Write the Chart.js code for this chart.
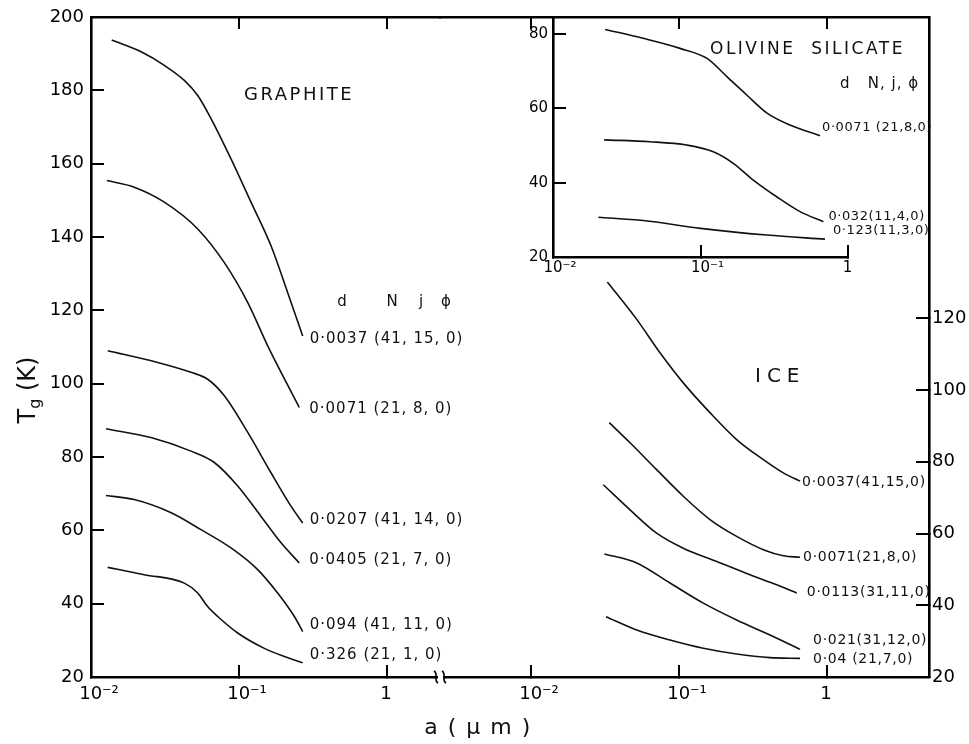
<!DOCTYPE html>
<html><head><meta charset="utf-8">
<script src="https://cdn.jsdelivr.net/npm/chart.js@4.4.1/dist/chart.umd.min.js"></script>
<style>
html,body{margin:0;padding:0;background:#fff;}
#wrap{position:relative;width:969px;height:744px;background:#fff;}
canvas{position:absolute;left:0;top:0;}
</style></head><body>
<div id="wrap">
<canvas id="cG" width="969" height="744"></canvas>
<canvas id="cI" width="969" height="744"></canvas>
<canvas id="cO" width="969" height="744"></canvas>
</div>
<script>
// ---------------- DATA ----------------
const xTickValues = [0.01, 0.1, 1];
const xTickLabels = ['10\u207B\u00B2', '10\u207B\u00B9', '1'];
const graphiteYTicks = [20, 40, 60, 80, 100, 120, 140, 160, 180, 200];
const iceYTicks = [20, 40, 60, 80, 100, 120];
const olivineYTicks = [20, 40, 60, 80];

// Graphite (a in micron, Tg in K)
const gA1 = [0.0138, 0.0218, 0.0313, 0.0427, 0.0526, 0.0647, 0.0883, 0.1205, 0.1645, 0.2133, 0.2693];
const gT1 = [193.7, 190.5, 186.8, 182.7, 178.6, 172.3, 161.3, 149.5, 137.6, 124.8, 113.0];
const gA2 = [0.0128, 0.0196, 0.0313, 0.0526, 0.0796, 0.1146, 0.1563, 0.2553];
const gT2 = [155.4, 153.6, 149.5, 142.2, 133.0, 122.1, 110.3, 93.5];
const gA3 = [0.01297, 0.0282, 0.0474, 0.0614, 0.0796, 0.1146, 0.1645, 0.2244, 0.2693];
const gT3 = [109.0, 105.8, 103.1, 101.2, 96.7, 86.7, 75.7, 66.6, 62.0];
const gA4 = [0.01262, 0.0254, 0.0474, 0.0681, 0.098, 0.1409, 0.1923, 0.2553];
const gT4 = [87.7, 85.3, 81.6, 78.5, 72.1, 63.8, 56.6, 51.1];
const gA5 = [0.01262, 0.0196, 0.0348, 0.0553, 0.0883, 0.1337, 0.1824, 0.2366, 0.2693];
const gT5 = [69.5, 68.4, 64.8, 60.2, 55.2, 49.3, 42.9, 36.5, 32.4];
const gA6 = [0.01297, 0.0229, 0.0427, 0.0526, 0.0614, 0.0718, 0.098, 0.1483, 0.2023, 0.2693];
const gT6 = [49.9, 47.9, 45.6, 42.9, 39.2, 36.5, 32.0, 27.8, 25.6, 23.9];
const graphiteNames = ['0\u00B70037 (41, 15, 0)', '0\u00B70071 (21, 8, 0)', '0\u00B70207 (41, 14, 0)',
                       '0\u00B70405 (21, 7, 0)', '0\u00B7094 (41, 11, 0)', '0\u00B7326 (21, 1, 0)'];

// Ice
const iA1 = [0.0328, 0.0518, 0.0744, 0.1069, 0.1619, 0.2452, 0.3715, 0.507, 0.6573];
const iT1 = [130.1, 119.7, 110.4, 102.0, 93.7, 86.2, 80.6, 76.9, 74.6];
const iA2 = [0.0338, 0.0467, 0.0706, 0.1069, 0.1619, 0.2452, 0.3715, 0.507, 0.6573];
const iT2 = [90.9, 85.3, 77.8, 70.4, 63.9, 59.2, 55.5, 53.8, 53.4];
const iA3 = [0.0308, 0.0467, 0.0706, 0.1069, 0.1799, 0.302, 0.457, 0.625];
const iT3 = [73.6, 66.6, 60.1, 55.9, 52.2, 48.5, 45.7, 43.4];
const iA4 = [0.0313, 0.0518, 0.0869, 0.146, 0.2452, 0.412, 0.6573];
const iT4 = [54.3, 51.8, 46.2, 40.6, 35.9, 31.7, 27.7];
const iA5 = [0.0321, 0.0518, 0.0869, 0.146, 0.2452, 0.412, 0.6573];
const iT5 = [36.8, 33.1, 30.3, 28.0, 26.4, 25.4, 25.2];
const iceNames = ['0\u00B70037(41,15,0)', '0\u00B70071(21,8,0)', '0\u00B70113(31,11,0)',
                  '0\u00B7021(31,12,0)', '0\u00B704 (21,7,0)'];

// Olivine silicate (inset)
const oA1 = [0.02255, 0.0407, 0.0726, 0.1107, 0.151, 0.2066, 0.2825, 0.404, 0.646];
const oT1 = [81.2, 78.8, 76.1, 73.4, 68.5, 63.5, 58.7, 55.5, 52.6];
const oA2 = [0.0222, 0.0455, 0.0806, 0.1222, 0.1668, 0.228, 0.3286, 0.473, 0.681];
const oT2 = [51.5, 51.0, 50.1, 48.3, 45.2, 40.7, 36.2, 32.2, 29.5];
const oA3 = [0.0203, 0.041, 0.1, 0.281, 0.698];
const oT3 = [30.7, 29.8, 27.7, 25.9, 24.8];
const olivineNames = ['0\u00B70071 (21,8,0)', '0\u00B7032(11,4,0)', '0\u00B7123(11,3,0)'];

// ---------------- STYLE / LAYOUT ----------------
const FONT = "'DejaVu Sans', 'Liberation Sans', sans-serif";
const INK = '#111';
const graphiteOffsets = [[7, 3], [10, 2], [7, -3], [10, -3], [7, -6], [7, -8]];
const iceOffsets = [[2, 1], [3, 0], [10, -1], [13, -9], [13, 1]];
const olivineOffsets = [[2, -8], [5, -5], [8, -9]];

function line(a, t) {
  return { data: a.map((v, i) => ({ x: v, y: t[i] })), borderColor: INK, borderWidth: 1.6,
           pointRadius: 0, fill: false, cubicInterpolationMode: 'monotone' };
}
function grid(len) { return { display: true, drawOnChartArea: false, drawTicks: true, tickLength: -len, color: '#000', lineWidth: 2 }; }
function brd() { return { display: true, color: '#000', width: 2.6 }; }
function setTicks(vals) { return s => { s.ticks = vals.map(v => ({ value: v })); }; }
function noPad(s) { s.paddingTop = 0; s.paddingBottom = 0; s.paddingLeft = 0; s.paddingRight = 0; }
function fixW(w) { return s => { s.width = w; noPad(s); }; }
function fixH(h) { return s => { s.height = h; noPad(s); }; }
function xLabel(v) {
  const i = xTickValues.findIndex(t => Math.abs(t - v) / t < 1e-6);
  if (i < 0) return '';
  return i === 2 ? xTickLabels[i] + '\u2002\u2002' : xTickLabels[i];
}
function spaced(ctx, px) { try { ctx.letterSpacing = px + 'px'; } catch (e) {} }

function labelPlugin(names, offs, font, spacing) {
  return { id: 'curveLabels', afterDatasetsDraw(chart) {
    const ctx = chart.ctx; ctx.save(); ctx.font = font; ctx.fillStyle = INK;
    ctx.textBaseline = 'middle'; ctx.textAlign = 'left'; spaced(ctx, spacing);
    names.forEach((n, i) => {
      const pts = chart.getDatasetMeta(i).data; const p = pts[pts.length - 1];
      ctx.fillText(n, p.x + offs[i][0], p.y + offs[i][1]);
    });
    ctx.restore();
  } };
}

const baseOpts = { responsive: false, animation: false, devicePixelRatio: 1,
  plugins: { legend: { display: false }, tooltip: { enabled: false } } };

// ---------------- GRAPHITE (left) ----------------
const gLeftMax = 2.28;
new Chart(document.getElementById('cG'), {
  type: 'line',
  data: { datasets: [line(gA1, gT1), line(gA2, gT2), line(gA3, gT3), line(gA4, gT4), line(gA5, gT5), line(gA6, gT6)] },
  options: Object.assign({}, baseOpts, {
    layout: { padding: { left: 0, right: 529, top: 0, bottom: 0 } },
    scales: {
      x: { type: 'logarithmic', position: 'bottom', min: 0.01, max: gLeftMax,
           afterBuildTicks: setTicks(xTickValues), afterFit: fixH(67),
           ticks: { callback: xLabel, maxRotation: 0, autoSkip: false, padding: 19, labelOffset: 8,
                    color: '#000', font: { family: FONT, size: 18 } },
           grid: grid(12), border: brd() },
      xTop: { axis: 'x', type: 'logarithmic', position: 'top', min: 0.01, max: gLeftMax,
           afterBuildTicks: setTicks([0.1, 1]), afterFit: fixH(17),
           ticks: { display: false }, grid: grid(12), border: brd() },
      y: { type: 'linear', position: 'left', min: 20, max: 200,
           afterBuildTicks: setTicks(graphiteYTicks), afterFit: fixW(91),
           ticks: { padding: 20, color: '#000', font: { family: FONT, size: 18 } },
           grid: grid(13), border: brd() }
    }
  }),
  plugins: [labelPlugin(graphiteNames, graphiteOffsets, '15px ' + FONT, 1), {
    id: 'graphiteText', afterDraw(chart) {
      const ctx = chart.ctx, ca = chart.chartArea; ctx.save(); ctx.fillStyle = INK;
      ctx.textBaseline = 'middle';
      ctx.font = '18px ' + FONT; spaced(ctx, 2.5); ctx.textAlign = 'left';
      ctx.fillText('GRAPHITE', ca.left + 153, 95);
      ctx.font = '15px ' + FONT; spaced(ctx, 0); ctx.textAlign = 'center';
      [['d', 251], ['N', 301], ['j', 330], ['\u03D5', 355]].forEach(h => ctx.fillText(h[0], ca.left + h[1], 302));
      // x axis title
      ctx.font = '22px ' + FONT; spaced(ctx, 1.5); ctx.textAlign = 'center';
      ctx.fillText('a ( \u03BC m )', 478, 728);
      // y axis title with subscript
      spaced(ctx, 0);
      ctx.translate(27, 390); ctx.rotate(-Math.PI / 2);
      const fB = '24px ' + FONT, fS = '16px ' + FONT;
      ctx.font = fB; const wT = ctx.measureText('T').width; const wK = ctx.measureText(' (K)').width;
      ctx.font = fS; const wg = ctx.measureText('g').width;
      let x0 = -(wT + wg + wK) / 2; ctx.textAlign = 'left'; ctx.textBaseline = 'alphabetic';
      ctx.font = fB; ctx.fillText('T', x0, 8);
      ctx.font = fS; ctx.fillText('g', x0 + wT, 13);
      ctx.font = fB; ctx.fillText(' (K)', x0 + wT + wg, 8);
      ctx.restore();
    } }]
});

// ---------------- ICE (right) ----------------
const iMin = 0.002427, iMax = 4.89;
new Chart(document.getElementById('cI'), {
  type: 'line',
  data: { datasets: [line(iA1, iT1), line(iA2, iT2), line(iA3, iT3), line(iA4, iT4), line(iA5, iT5)] },
  options: Object.assign({}, baseOpts, {
    layout: { padding: { left: 440, right: 0, top: 0, bottom: 0 } },
    scales: {
      x: { type: 'logarithmic', position: 'bottom', min: iMin, max: iMax,
           afterBuildTicks: setTicks(xTickValues), afterFit: fixH(67),
           ticks: { callback: xLabel, maxRotation: 0, autoSkip: false, padding: 19, labelOffset: 8,
                    color: '#000', font: { family: FONT, size: 18 } },
           grid: grid(12), border: brd() },
      xTop: { axis: 'x', type: 'logarithmic', position: 'top', min: iMin, max: iMax,
           afterBuildTicks: setTicks(xTickValues), afterFit: fixH(17),
           ticks: { display: false }, grid: grid(12), border: brd() },
      y: { type: 'linear', position: 'right', min: 20, max: 204,
           afterBuildTicks: setTicks(iceYTicks), afterFit: fixW(40),
           ticks: { padding: 16, color: '#000', font: { family: FONT, size: 18 } },
           grid: grid(13), border: brd() }
    }
  }),
  plugins: [labelPlugin(iceNames, iceOffsets, '14px ' + FONT, 0.7), {
    id: 'iceText', afterDraw(chart) {
      const ctx = chart.ctx, ca = chart.chartArea; ctx.save(); ctx.fillStyle = INK;
      ctx.textBaseline = 'middle'; ctx.textAlign = 'left';
      ctx.font = '20px ' + FONT; spaced(ctx, 6);
      ctx.fillText('ICE', 755, 377);
      // axis break mark
      const x = ca.left, y = ca.bottom;
      ctx.fillStyle = '#fff'; ctx.fillRect(x - 2, y - 3, 5, 6);
      ctx.strokeStyle = '#000'; ctx.lineWidth = 1.6;
      [-4, 4].forEach(dx => {
        ctx.beginPath(); ctx.moveTo(x + dx - 2, y - 6);
        ctx.bezierCurveTo(x + dx + 3, y - 3, x + dx - 3, y + 3, x + dx + 2, y + 6); ctx.stroke();
      });
      ctx.restore();
    } }]
});

// ---------------- OLIVINE SILICATE (inset) ----------------
new Chart(document.getElementById('cO'), {
  type: 'line',
  data: { datasets: [line(oA1, oT1), line(oA2, oT2), line(oA3, oT3)] },
  options: Object.assign({}, baseOpts, {
    layout: { padding: { left: 0, right: 121, top: 19, bottom: 0 } },
    scales: {
      x: { type: 'logarithmic', position: 'bottom', min: 0.01, max: 1,
           afterBuildTicks: setTicks(xTickValues), afterFit: fixH(487),
           ticks: { callback: xLabel, maxRotation: 0, autoSkip: false, padding: 14, labelOffset: 7,
                    color: '#000', font: { family: FONT, size: 15 } },
           grid: grid(12), border: brd() },
      y: { type: 'linear', position: 'left', min: 20, max: 84,
           afterBuildTicks: setTicks(olivineYTicks), afterFit: fixW(553),
           ticks: { padding: 18, color: '#000', font: { family: FONT, size: 15 } },
           grid: grid(13), border: brd() }
    }
  }),
  plugins: [labelPlugin(olivineNames, olivineOffsets, '13px ' + FONT, 0.6), {
    id: 'olivineText', afterDraw(chart) {
      const ctx = chart.ctx; ctx.save(); ctx.fillStyle = INK;
      ctx.textBaseline = 'middle'; ctx.textAlign = 'left';
      ctx.font = '17px ' + FONT; spaced(ctx, 2.5);
      ctx.fillText('OLIVINE  SILICATE', 710, 50);
      ctx.font = '15px ' + FONT; spaced(ctx, 1);
      ctx.fillText('d   N, j, \u03D5', 840, 84);
      ctx.restore();
    } }]
});
</script>
</body></html>
